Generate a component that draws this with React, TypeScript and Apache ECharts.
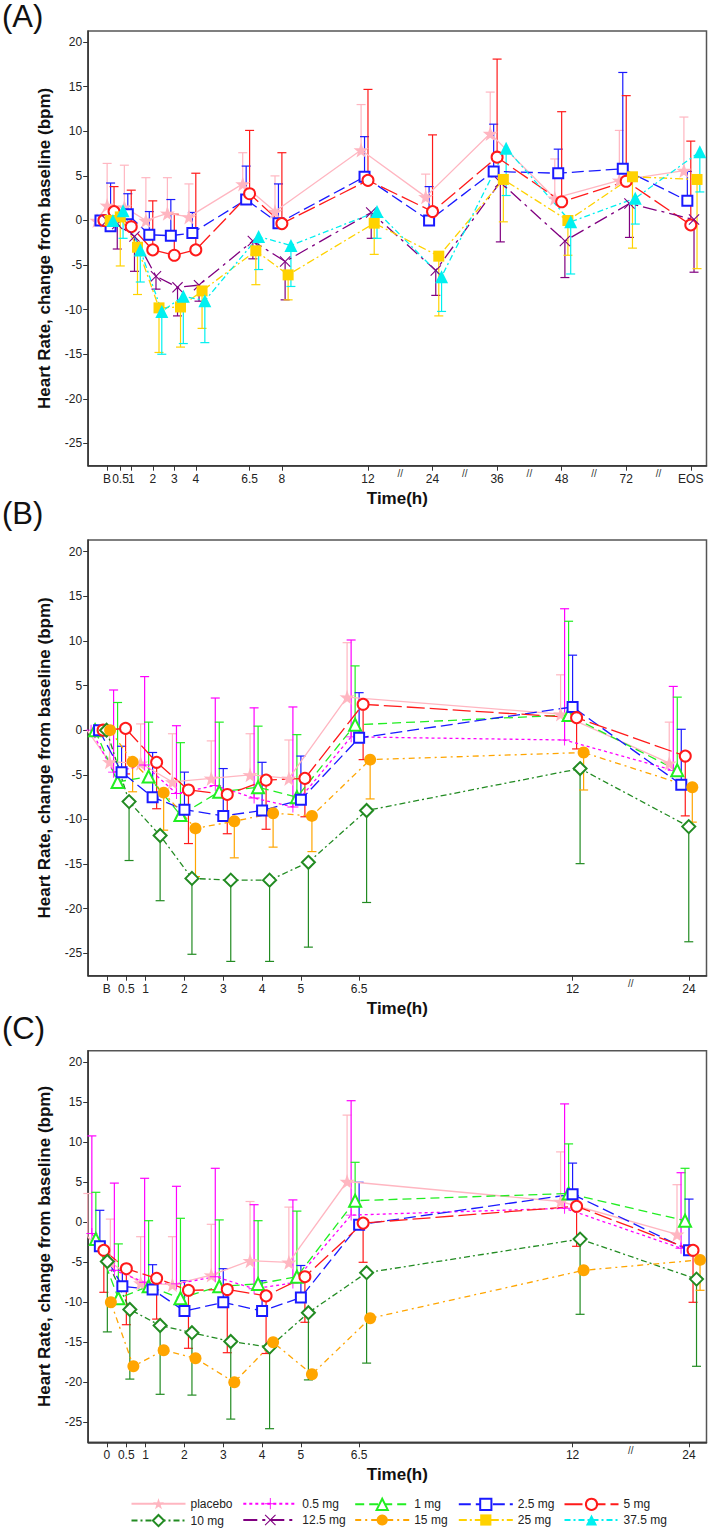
import React, { useEffect, useRef } from "react";
import * as echarts from "echarts";

const FONT = "'Liberation Sans', Arial, Helvetica, sans-serif";

// ---------------- Panel A (x axis: after 12 h every step is 3 axis units) ----------------
const timesA = ["B", "0.5", "1", "2", "3", "4", "6.5", "8", "12", "24", "36", "48", "72", "EOS"];
const axisPosA = [-0.13, 0.5, 1, 2, 3, 4, 6.5, 8, 12, 15, 18, 21, 24, 27];
const timeShiftA = [-0.27, -0.3, 0, 0, 0, 0, 0, 0, 0, 0, 0, 0, 0, 0];
const breaksA = [13.5, 16.5, 19.5, 22.5, 25.5];

const placeboA = [0, 1.7, 1.5, 0.0, 0.8, 0.4, 4.1, 1.0, 7.9, 2.65, 9.75, 2.5, 4.5, 5.6];
const placeboA_end = [null, 6.4, 6.2, 4.8, 4.8, 4.1, 7.6, 5.0, 13.0, 5.2, 14.4, 6.9, 10.1, 11.6];
const mg2_5A = [0, -0.65, 0.7, -1.6, -1.7, -1.4, 2.35, -0.3, 4.9, 0.0, 5.5, 5.3, 5.8, 2.2];
const mg2_5A_end = [null, 4.2, 3.0, 1.0, 2.35, 0.9, 6.1, 4.1, 9.4, 3.8, 10.8, 8.0, 16.6, 5.5];
const mg5A = [0, 1.0, -0.7, -3.3, -3.9, -3.3, 3.0, -0.35, 4.5, 1.0, 7.1, 2.1, 4.4, -0.5];
const mg5A_end = [null, 3.8, 3.4, 2.2, 0.7, 5.3, 10.1, 7.6, 14.7, 9.6, 18.1, 12.2, 14.0, 8.9];
const mg12_5A = [0, -0.4, -1.8, -6.25, -7.5, -7.25, -2.3, -4.6, 0.9, -5.6, 4.3, -2.3, 1.9, 0.1];
const mg12_5A_end = [null, -3.2, -5.7, -7.7, -10.7, -9.05, -4.3, -8.9, -2.0, -8.4, -2.4, -6.4, -1.9, -5.8];
const mg25A = [0, 0.4, -3.0, -9.8, -9.7, -7.9, -3.4, -6.1, -0.3, -4.0, 4.6, 0.0, 4.9, 4.6];
const mg25A_end = [null, -5.1, -8.3, -14.8, -14.2, -12.1, -7.2, -8.9, -3.8, -10.7, -0.15, -3.9, -3.1, -5.4];
const mg37_5A = [0, 1.1, -3.3, -10.2, -8.5, -9.0, -1.8, -2.8, 1.0, -6.3, 8.1, -0.15, 2.5, 7.7];
const mg37_5A_end = [null, -2.0, -6.9, -15.0, -13.8, -13.7, -5.5, -7.4, -2.0, -10.2, 2.8, -6.0, -0.4, 3.2];

// ---------------- Panels B and C (after 12 h: 24 h at axis unit 15) ----------------
const timesB = ["B", "0.5", "1", "2", "3", "4", "5", "6.5", "12", "24"];
const timesC = ["0", "0.5", "1", "2", "3", "4", "5", "6.5", "12", "24"];
const axisPosBC = [0, 0.5, 1, 2, 3, 4, 5, 6.5, 12, 15];
const timeShiftB = [-0.2, -0.12, 0.18, 0, 0, 0, 0, 0, 0, -0.2];
const timeShiftC = [-0.18, -0.1, 0.18, 0, 0, 0, 0, 0, 0, 0];
const breaksBC = [13.5];

const placeboB = [0, -3.55, -3.7, -5.8, -5.4, -5.0, -5.4, 3.7, 1.8, -3.7];
const placeboB_end = [null, 0.5, 0.7, -0.4, -1.2, -0.4, -1.1, 9.8, 6.2, 0.9];
const mg0_5B = [0, -4.7, -3.9, -7.1, -6.2, -7.6, -8.6, -0.75, -1.1, -4.5];
const mg0_5B_end = [null, 4.5, 6.0, 0.5, 3.6, 2.5, 2.6, 10.1, 13.6, 4.9];
const mg1B = [0, -5.8, -5.2, -9.5, -6.9, -6.4, -7.5, 0.6, 1.7, -4.5];
const mg1B_end = [null, 3.1, 0.9, -1.4, 0.9, 0.45, -0.5, 7.2, 12.2, 3.7];
const mg2_5B = [0, -4.7, -7.5, -8.9, -9.6, -9.0, -7.8, -0.86, 2.6, -6.1];
const mg2_5B_end = [null, -1.8, -2.5, -4.7, -4.3, -3.6, -2.9, 4.2, 8.4, 0.1];
const mg5B = [0, 0.2, -3.6, -6.7, -7.2, -5.6, -5.4, 2.9, 1.4, -2.9];
const mg5B_end = [null, -4.9, -8.8, -12.7, -11.6, -11.1, -9.7, -3.3, -2.1, -9.6];
const mg10B = [0, -8.0, -11.8, -16.6, -16.8, -16.8, -14.8, -9.0, -4.3, -10.8];
const mg10B_end = [null, -14.6, -19.1, -25.1, -25.9, -25.9, -24.3, -19.3, -14.95, -23.7];
const mg15B = [0, -3.55, -7.0, -11.0, -10.2, -9.3, -9.6, -3.3, -2.5, -6.4];
const mg15B_end = [null, -6.9, -11.2, -16.4, -14.3, -13.1, -13.6, -7.7, -6.7, -10.3];

const placeboC = [-1.8, -5.0, -7.6, -7.8, -6.6, -4.8, -5.0, 5.1, 2.6, -1.5];
const placeboC_end = [3.6, 0.4, -1.8, -1.8, -0.25, 2.6, 1.9, 13.4, 8.8, 4.7];
const mg0_5C = [-1.4, -6.0, -7.5, -7.7, -6.8, -8.3, -7.6, 0.9, 1.75, -3.25];
const mg0_5C_end = [10.8, 4.9, 5.5, 4.5, 6.75, 2.2, 2.8, 15.2, 14.8, 6.2];
const mg1C = [-2.1, -9.5, -8.0, -9.5, -8.0, -7.7, -6.8, 2.7, 3.6, 0.2];
const mg1C_end = [3.75, -2.7, 0.2, 0.5, 0.3, 0.2, 1.4, 7.5, 9.8, 6.75];
const mg2_5C = [-3.0, -8.0, -8.4, -11.1, -10.0, -11.1, -9.4, -0.3, 3.5, -3.5];
const mg2_5C_end = [1.5, -6.0, -5.3, -7.3, -5.8, -7.3, -5.4, 5.0, 7.4, 2.9];
const mg5C = [-3.5, -5.8, -7.0, -8.5, -8.4, -9.2, -6.8, -0.1, 2.0, -3.5];
const mg5C_end = [-8.75, -12.8, -12.1, -15.75, -16.3, -16.4, -12.5, -5.0, -3.0, -10.0];
const mg10C = [-4.9, -10.9, -12.9, -13.8, -14.9, -15.6, -11.3, -6.3, -2.1, -7.1];
const mg10C_end = [-13.7, -19.6, -21.5, -21.6, -24.6, -25.8, -19.7, -17.6, -11.5, -18.0];
const mg15C = [-10, -18, -16, -17, -20, -15, -19, -12, -6, -4.7];
const mg15C_end = [null, null, null, null, null, null, null, null, null, -8.5];

const yTicks = [-25, -20, -15, -10, -5, 0, 5, 10, 15, 20];

const legendRows = [
  ["placebo", "0.5 mg", "1 mg", "2.5 mg", "5 mg"],
  ["10 mg", "12.5 mg", "15 mg", "25 mg", "37.5 mg"],
];

// ---------------- styles ----------------
const STAR = "path://M50,0 L61.8,35.1 L97.6,34.5 L68.8,56.7 L79.4,90.5 L50,70 L20.6,90.5 L31.2,56.7 L2.4,34.5 L38.2,35.1 Z";
const CROSS = "path://M0,7 L7,0 L50,43 L93,0 L100,7 L57,50 L100,93 L93,100 L50,57 L7,100 L0,93 L43,50 Z";
const PLUS = "path://M46,0 L54,0 L54,46 L100,46 L100,54 L54,54 L54,100 L46,100 L46,54 L0,54 L0,46 L46,46 Z";

type Sty = { color: string; dash: any; symbol: string; size: number; empty: boolean };
const STYLE: Record<string, Sty> = {
  placebo: { color: "#FFB6C1", dash: "solid", symbol: STAR, size: 15, empty: false },
  "0.5 mg": { color: "#FF00FF", dash: [3, 3], symbol: PLUS, size: 11, empty: false },
  "1 mg": { color: "#22EE22", dash: [9, 5], symbol: "emptyTriangle", size: 12, empty: true },
  "2.5 mg": { color: "#1A1AFF", dash: [12, 5], symbol: "emptyRect", size: 10, empty: true },
  "5 mg": { color: "#FF1A1A", dash: [18, 5], symbol: "emptyCircle", size: 11, empty: true },
  "10 mg": { color: "#228B22", dash: [6, 3, 2, 3], symbol: "emptyDiamond", size: 13, empty: true },
  "12.5 mg": { color: "#800080", dash: [14, 5, 3, 5], symbol: CROSS, size: 11, empty: false },
  "15 mg": { color: "#FFA500", dash: [6, 4, 2, 4], symbol: "circle", size: 12, empty: false },
  "25 mg": { color: "#FFD200", dash: [8, 3, 2, 3], symbol: "rect", size: 11, empty: false },
  "37.5 mg": { color: "#00F0F0", dash: [6, 3, 2, 3], symbol: "triangle", size: 13, empty: false },
};

const OFFSET_A: Record<string, number> = { placebo: -0.32, "2.5 mg": -0.16, "5 mg": 0, "12.5 mg": 0.15, "25 mg": 0.29, "37.5 mg": 0.42 };
const OFFSET_BC: Record<string, number> = { placebo: -0.31, "0.5 mg": -0.206, "1 mg": -0.103, "2.5 mg": 0, "5 mg": 0.103, "10 mg": 0.193, "15 mg": 0.284 };

type Panel = {
  letter: string; letterY: number; top: number; height: number; xMin: number; xMax: number; yMax: number;
  labels: string[]; pos: number[]; shift: number[]; breaks: number[]; offsets: Record<string, number>;
  series: [string, number[], (number | null)[]][];
};

const panels: Panel[] = [
  {
    letter: "(A)", letterY: 16, top: 31, height: 434.7, xMin: -1, xMax: 27.73, yMax: 21.25,
    labels: timesA, pos: axisPosA, shift: timeShiftA, breaks: breaksA, offsets: OFFSET_A,
    series: [
      ["placebo", placeboA, placeboA_end],
      ["2.5 mg", mg2_5A, mg2_5A_end],
      ["5 mg", mg5A, mg5A_end],
      ["12.5 mg", mg12_5A, mg12_5A_end],
      ["25 mg", mg25A, mg25A_end],
      ["37.5 mg", mg37_5A, mg37_5A_end],
    ],
  },
  {
    letter: "(B)", letterY: 513, top: 540, height: 435.7, xMin: -0.48, xMax: 15.45, yMax: 21.3,
    labels: timesB, pos: axisPosBC, shift: timeShiftB, breaks: breaksBC, offsets: OFFSET_BC,
    series: [
      ["placebo", placeboB, placeboB_end],
      ["0.5 mg", mg0_5B, mg0_5B_end],
      ["1 mg", mg1B, mg1B_end],
      ["2.5 mg", mg2_5B, mg2_5B_end],
      ["5 mg", mg5B, mg5B_end],
      ["10 mg", mg10B, mg10B_end],
      ["15 mg", mg15B, mg15B_end],
    ],
  },
  {
    letter: "(C)", letterY: 1028, top: 1050.7, height: 391.6, xMin: -0.48, xMax: 15.45, yMax: 21.45,
    labels: timesC, pos: axisPosBC, shift: timeShiftC, breaks: breaksBC, offsets: OFFSET_BC,
    series: [
      ["placebo", placeboC, placeboC_end],
      ["0.5 mg", mg0_5C, mg0_5C_end],
      ["1 mg", mg1C, mg1C_end],
      ["2.5 mg", mg2_5C, mg2_5C_end],
      ["5 mg", mg5C, mg5C_end],
      ["10 mg", mg10C, mg10C_end],
      ["15 mg", mg15C, mg15C_end],
    ],
  },
];

const Y_MIN = -27.5;

function buildOption() {
  const grid: any[] = [];
  const xAxis: any[] = [];
  const yAxis: any[] = [];
  const lineSeries: any[] = [];
  const errSeries: any[] = [];
  const extraSeries: any[] = [];
  const graphic: any[] = [];

  panels.forEach((p, pi) => {
    grid.push({
      left: 88.2, top: p.top, width: 618.3, height: p.height,
      show: true, borderColor: "#555", borderWidth: 1.5, backgroundColor: "transparent",
      containLabel: false, outerBoundsMode: "none",
    });
    xAxis.push({
      type: "value", gridIndex: pi, min: p.xMin, max: p.xMax,
      axisLine: { show: true, onZero: false, lineStyle: { color: "#333", width: 1.5 } },
      axisTick: { show: true, length: 5, customValues: p.pos, lineStyle: { color: "#333", width: 1 } },
      axisLabel: {
        show: true, customValues: p.pos, margin: 7, fontSize: 12, color: "#222", fontFamily: FONT,
        hideOverlap: false, showMinLabel: true, showMaxLabel: true,
        formatter: (v: number) => {
          const i = p.pos.findIndex((q) => Math.abs(q - v) < 1e-6);
          return i >= 0 ? p.labels[i] : "";
        },
      },
      splitLine: { show: false },
      name: "Time(h)", nameLocation: "middle", nameGap: 24,
      nameTextStyle: { fontSize: 17, fontWeight: "bold", color: "#111", fontFamily: FONT },
    });
    yAxis.push({
      type: "value", gridIndex: pi, min: Y_MIN, max: p.yMax,
      axisLine: { show: true, onZero: false, lineStyle: { color: "#333", width: 1.5 } },
      axisTick: { show: true, length: 5, customValues: yTicks, lineStyle: { color: "#333", width: 1 } },
      axisLabel: { show: true, customValues: yTicks, margin: 6, fontSize: 12, color: "#222", fontFamily: FONT },
      splitLine: { show: false },
      name: "Heart Rate, change from baseline (bpm)", nameLocation: "middle", nameGap: 35,
      nameTextStyle: { fontSize: 17, fontWeight: "bold", color: "#111", fontFamily: FONT },
    });

    p.series.forEach(([name, vals, ends]) => {
      const st = STYLE[name];
      const off = p.offsets[name];
      const xs = vals.map((_, i) => p.pos[i] + (i === 0 && p.pos[0] !== 0 ? -p.pos[0] : 0) + p.shift[i] + off);
      lineSeries.push({
        type: "line", name, xAxisIndex: pi, yAxisIndex: pi,
        data: vals.map((v, i) => [xs[i], v]),
        symbol: st.symbol, symbolSize: st.size, showSymbol: true, showAllSymbol: true,
        lineStyle: { color: st.color, width: 1.3, type: st.dash },
        itemStyle: st.empty
          ? { color: st.color, borderColor: st.color, borderWidth: 1 }
          : { color: st.color, borderWidth: 0 },
        emphasis: { disabled: true }, silent: true, z: 4,
      });
      const errData: any[] = [];
      ends.forEach((e, i) => {
        if (e !== null && e !== undefined) errData.push([xs[i], vals[i], e]);
      });
      errSeries.push({
        type: "custom", name: name + " SD " + p.letter, xAxisIndex: pi, yAxisIndex: pi,
        data: errData, clip: false, silent: true, z: 3,
        encode: { x: 0, y: [1, 2] },
        renderItem: (_params: any, api: any) => {
          const x = api.value(0);
          const a = api.coord([x, api.value(1)]);
          const b = api.coord([x, api.value(2)]);
          const hw = 4.5;
          const style = { stroke: st.color, lineWidth: 1.2 };
          return {
            type: "group",
            children: [
              { type: "line", shape: { x1: a[0], y1: a[1], x2: b[0], y2: b[1] }, style },
              { type: "line", shape: { x1: b[0] - hw, y1: b[1], x2: b[0] + hw, y2: b[1] }, style },
            ],
          };
        },
      });
    });

    extraSeries.push({
      type: "custom", name: "breaks " + p.letter, xAxisIndex: pi, yAxisIndex: pi,
      data: p.breaks.map((b) => [b, Y_MIN]), clip: false, silent: true, z: 5,
      renderItem: (_params: any, api: any) => {
        const c = api.coord([api.value(0), api.value(1)]);
        return {
          type: "text", x: c[0], y: c[1] + 3,
          style: { text: "//", fill: "#333", fontSize: 10, fontFamily: FONT, align: "center", verticalAlign: "top" },
        };
      },
    });

    graphic.push({
      type: "text", x: 2, y: p.letterY,
      style: { text: p.letter, fontSize: 31, fontFamily: FONT, fill: "#111", align: "left", verticalAlign: "middle" },
    });
  });

  const colX = [130.5, 242.3, 354.2, 457.8, 563.5];
  const rowY = [1497.7, 1514];
  const legend: any[] = [];
  legendRows.forEach((row, ri) =>
    row.forEach((name, ci) => {
      legend.push({
        data: [name], left: colX[ci], top: rowY[ri], orient: "horizontal",
        itemWidth: 54, itemHeight: 14, itemGap: 0, padding: 0, selectedMode: false,
        itemStyle: { borderWidth: 1 },
        textStyle: { fontSize: 12, color: "#222", fontFamily: FONT },
      });
    })
  );

  return {
    animation: false,
    backgroundColor: "#fff",
    textStyle: { fontFamily: FONT },
    grid, xAxis, yAxis, legend, graphic,
    series: [...lineSeries, ...errSeries, ...extraSeries],
  };
}

export default function App() {
  const ref = useRef<HTMLDivElement>(null);
  useEffect(() => {
    const chart = echarts.init(ref.current!, null, { renderer: "svg" });
    chart.setOption(buildOption() as any);
    return () => chart.dispose();
  }, []);
  return (
    <div
      ref={ref}
      style={{ position: "absolute", left: 0, top: 0, width: 709, height: 1531, background: "#fff" }}
    />
  );
}
